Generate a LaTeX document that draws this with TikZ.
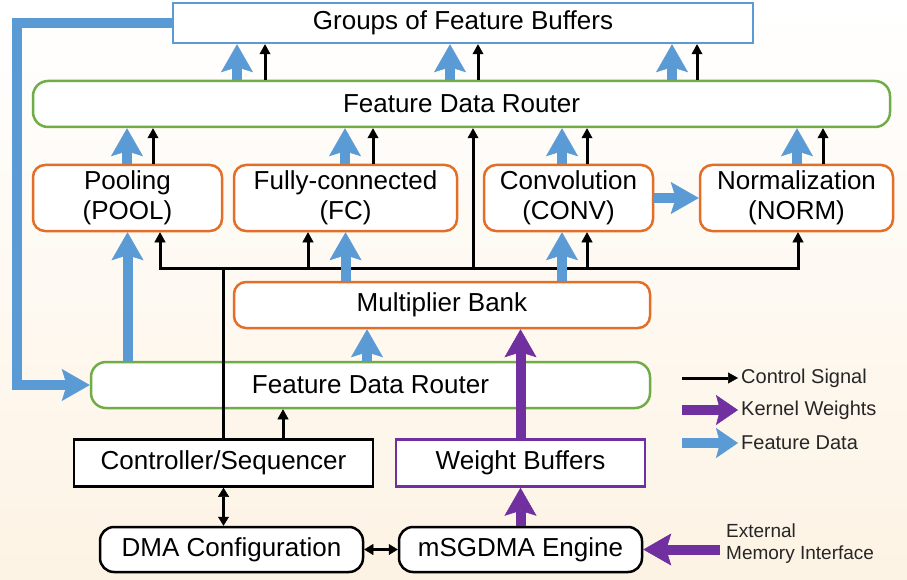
\documentclass[tikz,border=0pt]{standalone}
\usepackage{fontspec}
\setmainfont{Liberation Sans}
\usetikzlibrary{arrows.meta, positioning}

\definecolor{fblue}{RGB}{91,155,213}
\definecolor{rgreen}{RGB}{112,173,71}
\definecolor{uorange}{RGB}{226,110,40}
\definecolor{kpurple}{RGB}{112,48,160}
\definecolor{bgpeach}{RGB}{253,243,228}

\tikzset{
  box/.style={draw, line width=2.5pt, fill=white, inner sep=0pt, align=center,
    font=\fontsize{26}{30}\selectfont},
  buffer/.style={box, draw=fblue},
  router/.style={box, draw=rgreen, rounded corners=15pt, minimum height=46},
  unit/.style={box, draw=uorange, rounded corners=12pt},
  plain/.style={box, draw=black},
  legend/.style={inner sep=3pt, text=black!85, font=\fontsize{20}{23}\selectfont},
  ctl/.style={line width=3pt, -{Triangle[length=10pt,width=11pt,line width=0.5pt]}},
  dctl/.style={line width=3pt, {Triangle[length=9pt,width=11pt,line width=0.5pt]}-{Triangle[length=9pt,width=11pt,line width=0.5pt]}},
  wire/.style={line width=3pt, line cap=rect},
  feat/.style={draw=fblue, line width=10pt, -{Stealth[length=28pt,width=32pt,inset=5pt,line width=0.5pt]}},
  kern/.style={feat, draw=kpurple},
  lfeat/.style={draw=fblue, line width=10pt, -{Stealth[length=22pt,width=30pt,inset=4pt,line width=0.5pt]}},
  lkern/.style={lfeat, draw=kpurple}
}

\begin{document}
\begin{tikzpicture}[x=1pt, y=-1pt]
\useasboundingbox (0,0) rectangle (907,580);
\shade[top color=white, middle color=white, bottom color=bgpeach] (0,0) rectangle (907,580);

% blocks
\node[buffer, minimum width=580, minimum height=40] (grp) at (463,23) {Groups of Feature Buffers};
\node[router, minimum width=857] (rtop) at (461.5,104) {Feature Data Router};
\node[unit, minimum width=189, minimum height=66] (pool) at (127.5,198) {Pooling\\(POOL)};
\node[unit, minimum width=223, minimum height=66] (fc) at (345.5,198) {Fully-connected\\(FC)};
\node[unit, minimum width=169, minimum height=66] (conv) at (568.5,198) {Convolution\\(CONV)};
\node[unit, minimum width=193, minimum height=66] (norm) at (796.5,198) {Normalization\\(NORM)};
\node[unit, minimum width=416, minimum height=46] (mult) at (442,305) {Multiplier Bank};
\node[router, minimum width=559] (rbot) at (370.5,385) {Feature Data Router};
\node[plain, minimum width=299, minimum height=47] (ctrl) at (223.5,463) {Controller/Sequencer};
\node[box, draw=kpurple, minimum width=249, minimum height=47] (wbuf) at (520.5,463) {Weight Buffers};
\node[plain, rounded corners=14pt, minimum width=263, minimum height=45] (dma) at (231.5,549.5) {DMA Configuration};
\node[plain, rounded corners=14pt, minimum width=243, minimum height=45] (sgdma) at (520.5,549.5) {mSGDMA Engine};
\node[legend, anchor=west, align=left, inner xsep=6pt, font=\fontsize{19}{22}\selectfont] (ext) at (720,544) {External\\Memory Interface};

% legend
\node[legend, anchor=west] (lgctl) at (738,378) {Control Signal};
\node[legend, anchor=west] (lgker) at (738,410) {Kernel Weights};
\node[legend, anchor=west] (lgfeat) at (738,443) {Feature Data};
\draw[ctl] ([xshift=-56]lgctl.west) -- (lgctl.west);
\draw[lkern] ([xshift=-56]lgker.west) -- (lgker.west);
\draw[lfeat] ([xshift=-56]lgfeat.west) -- (lgfeat.west);

% router up to the buffers
\foreach \f/\c in {237/265, 450/478, 672/697} {
  \draw[feat] (rtop.north -| \f,0) -- (grp.south -| \f,0);
  \draw[ctl] (rtop.north -| \c,0) -- (grp.south -| \c,0);
}

% modules up to the router
\foreach \m/\f/\c in {pool/127/153, fc/345/373, conv/562/587, norm/797/823} {
  \draw[feat] (\m.north -| \f,0) -- (rtop.south -| \f,0);
  \draw[ctl] (\m.north -| \c,0) -- (rtop.south -| \c,0);
}

% control bus
\coordinate (bus) at (0,268);
\draw[wire] (bus -| 160,0) -- (bus -| 798,0);
\draw[wire] (ctrl.north) -- (ctrl.north |- bus);
\foreach \m/\c in {pool/160, fc/308, conv/587, norm/798}
  \draw[ctl] (bus -| \c,0) -- (\m.south -| \c,0);
\draw[ctl] (bus -| 473,0) -- (rtop.south -| 473,0);

% feature data into the modules
\draw[feat] (rbot.north -| pool.south) -- (pool.south);
\draw[feat] (mult.north -| fc.south) -- (fc.south);
\draw[feat] (mult.north -| 562,0) -- (conv.south -| 562,0);
\draw[feat] (conv.east) -- (norm.west);
\draw[feat] (rbot.north -| 367,0) -- (mult.south -| 367,0);
\draw[feat] (grp.west) -| ([xshift=-73]rbot.west) -- (rbot.west);

% kernel weights
\draw[kern] (wbuf.north) -- (wbuf.north |- mult.south);
\draw[kern] (sgdma.north) -- (wbuf.south);
\draw[kern] (ext.west |- sgdma.east) -- (sgdma.east);

% controller links
\draw[ctl] (ctrl.north -| 283,0) -- (rbot.south -| 283,0);
\draw[dctl] (ctrl.south) -- (dma.north -| ctrl.south);
\draw[dctl] (dma.east) -- (sgdma.west);
\end{tikzpicture}
\end{document}
